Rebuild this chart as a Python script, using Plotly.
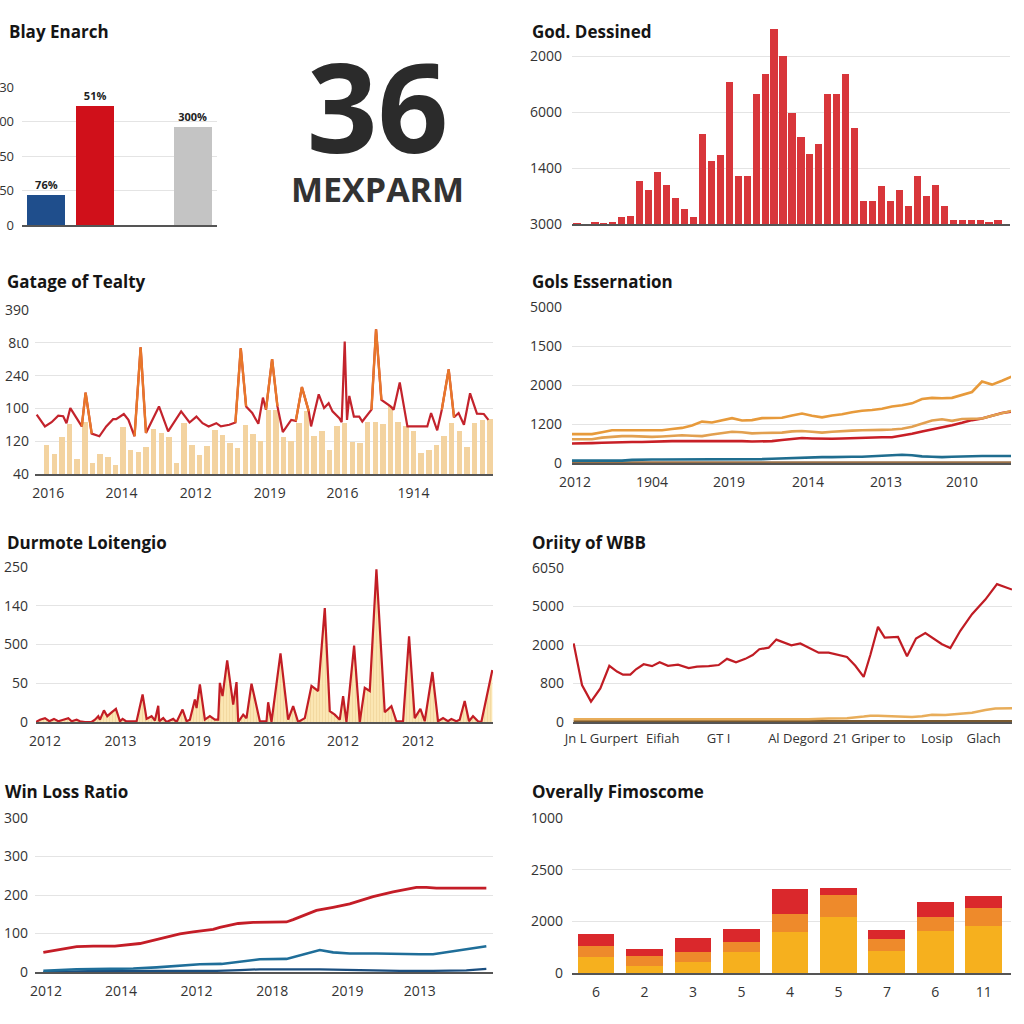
import plotly.graph_objects as go

W = H = 1024
FONT = "Open Sans, Lato, sans-serif"
GRID = "#e4e4e4"
AXIS = "#555555"
TXT = "#333333"

# ---------------- data ----------------
# Panel 1: Blay Enarch
p1_cats = [0, 1, 2, 3]
p1_vals = [0.87, 3.45, None, 2.84]
p1_colors = ["#1f4e8c", "#d0101a", "#ffffff", "#c4c4c4"]
p1_labels = ["<b>76%</b>", "<b>51%</b>", "", "<b>300%</b>"]
p1_ytext = ["0", "50", "50", "00", "30"]

# Big KPI
kpi_value = "36"
kpi_label = "MEXPARM"

# Panel 2: God. Dessined
p2_vals = [0.01, 0.005, 0.03, 0.02, 0.03, 0.13, 0.14, 0.76, 0.60, 0.92,
           0.69, 0.47, 0.27, 0.125, 1.60, 1.12, 1.24, 2.54, 0.85, 0.85,
           2.33, 2.68, 3.48, 3.0, 1.99, 1.55, 1.25, 1.42, 2.32, 2.32,
           2.68, 1.71, 0.41, 0.41, 0.67, 0.41, 0.60, 0.32, 0.85, 0.50,
           0.70, 0.32, 0.065, 0.065, 0.065, 0.065, 0.03, 0.065]
p2_ytext = ["3000", "1400", "6000", "2000"]

# Panel 3: Gatage of Tealty
p3_bars = [0.89, 0.61, 1.13, 1.52, 0.46, 1.60, 0.33, 0.61, 0.52, 0.26,
           1.42, 0.74, 0.66, 0.83, 1.37, 1.25, 1.13, 0.33, 1.55, 0.89,
           0.59, 0.84, 1.35, 1.18, 0.96, 0.79, 1.50, 1.22, 1.01, 1.96,
           1.96, 1.12, 1.01, 1.55, 1.91, 1.17, 1.32, 0.74, 1.45, 1.55,
           0.99, 0.96, 1.60, 1.60, 1.53, 2.06, 1.58, 1.45, 1.30, 0.64,
           0.72, 0.89, 1.15, 1.55, 1.30, 0.81, 1.55, 1.65, 1.67]
p3_line_x = [-0.3, 0.78, 1.65, 2.52, 3.17, 3.6, 4.1, 4.9, 5.6, 6.1,
             6.9, 7.9, 8.8, 9.7, 10.1, 11.1, 11.7, 12.5, 13.3, 14.0,
             14.8, 15.7, 16.9, 17.7, 18.6, 19.7, 20.6, 21.4, 22.2, 23.2,
             23.8, 24.9, 25.7, 26.4, 27.1, 27.9, 28.7, 29.3, 29.7, 30.5,
             31.2, 31.9, 33.0, 33.6, 34.4, 35.3, 35.6, 36.6, 37.3, 37.9,
             38.4, 39.3, 39.6, 40.0, 40.3, 40.6, 41.2, 41.9, 42.3, 43.5,
             44.1, 44.8, 46.0, 46.4, 47.2, 48.2, 50.8, 51.3, 52.1, 52.7,
             53.6, 54.3, 54.9, 55.6, 56.4, 57.3, 58.2, 58.8]
p3_line_y = [1.81, 1.45, 1.58, 1.78, 1.76, 1.55, 2.01, 1.70, 1.45, 2.48,
             1.23, 1.15, 1.45, 1.67, 1.67, 1.83, 1.65, 1.15, 3.86, 1.25,
             1.65, 2.06, 1.30, 1.60, 1.91, 1.57, 1.75, 1.55, 1.45, 1.55,
             1.45, 1.50, 1.57, 3.83, 2.06, 1.86, 1.53, 2.33, 1.96, 3.50,
             2.06, 1.28, 1.65, 1.62, 2.65, 1.91, 1.45, 2.43, 2.01, 2.16,
             1.91, 1.70, 1.58, 4.04, 1.65, 2.38, 1.75, 1.75, 1.60, 1.96,
             4.41, 2.26, 2.06, 1.96, 2.79, 1.45, 1.45, 1.86, 1.33, 1.96,
             3.19, 1.73, 1.86, 1.50, 2.46, 1.84, 1.83, 1.65]
p3_orange_segments = [(8, 10), (17, 19), (32, 34), (38, 40), (43, 45), (59, 61), (69, 71)]
p3_ytext = ["40", "120", "100", "240", "8ι0", "390"]
p3_xtickvals = [1.2, 10.8, 20.5, 30.2, 39.7, 49.0]
p3_xtext = ["2016", "2014", "2012", "2019", "2016", "1914"]

# Panel 4: Gols Essernation (45 samples)
p4_top = [0.74, 0.74, 0.74, 0.79, 0.84, 0.84, 0.84, 0.83, 0.83, 0.84,
          0.87, 0.90, 0.96, 1.06, 1.04, 1.10, 1.15, 1.09, 1.10, 1.15,
          1.16, 1.16, 1.22, 1.27, 1.21, 1.17, 1.22, 1.25, 1.30, 1.34,
          1.36, 1.39, 1.45, 1.48, 1.53, 1.64, 1.67, 1.66, 1.67, 1.75,
          1.82, 2.09, 2.01, 2.11, 2.22]
p4_second = [0.61, 0.61, 0.61, 0.65, 0.67, 0.69, 0.69, 0.68, 0.67, 0.68,
             0.70, 0.71, 0.70, 0.69, 0.73, 0.77, 0.80, 0.79, 0.76, 0.77,
             0.78, 0.78, 0.81, 0.82, 0.80, 0.78, 0.80, 0.82, 0.83, 0.84,
             0.84, 0.85, 0.86, 0.88, 0.93, 1.02, 1.09, 1.12, 1.08, 1.13,
             1.13, 1.14, 1.21, 1.28, 1.34]
p4_red = [0.50, 0.50, 0.51, 0.52, 0.53, 0.54, 0.54, 0.54, 0.55, 0.56,
          0.56, 0.56, 0.56, 0.56, 0.56, 0.57, 0.57, 0.56, 0.55, 0.55,
          0.56, 0.59, 0.62, 0.64, 0.63, 0.62, 0.62, 0.63, 0.64, 0.65,
          0.66, 0.66, 0.66, 0.70, 0.75, 0.81, 0.86, 0.91, 0.97, 1.03,
          1.10, 1.14, 1.21, 1.28, 1.32]
p4_blue = [0.06, 0.06, 0.06, 0.06, 0.06, 0.06, 0.08, 0.09, 0.09, 0.09,
           0.09, 0.09, 0.09, 0.09, 0.09, 0.10, 0.10, 0.10, 0.10, 0.10,
           0.11, 0.12, 0.13, 0.14, 0.15, 0.15, 0.15, 0.16, 0.16, 0.16,
           0.17, 0.18, 0.19, 0.21, 0.20, 0.17, 0.16, 0.15, 0.16, 0.17,
           0.18, 0.18, 0.18, 0.18, 0.18]
p4_brown = [0.01] * 45
p4_x = list(range(45))
p4_ytext = ["0", "1200", "2000", "1500", "5000"]
p4_xtickvals = [0.3, 8.0, 15.7, 23.6, 31.4, 39.0]
p4_xtext = ["2012", "1904", "2019", "2014", "2013", "2010"]

# Panel 5: Durmote Loitengio
p5_x = [0, 1.2, 2.7, 4, 5.4, 6.7, 8.2, 9.7, 10.7, 12.2, 13.2, 14.7, 16.7, 17.7,
        18.7, 19.2, 20.4, 21.4, 22.7, 24, 25.2, 26, 27, 30.2, 32, 33.2, 34.7,
        35.7, 36.7, 37, 38.2, 39.2, 41.2, 42.2, 44, 45.2, 46.2, 47.7, 48.2,
        49.2, 50.7, 52.2, 53.7, 54.7, 55.2, 56, 57.4, 59.2, 60.2, 60.7, 62.2,
        63.2, 64.7, 66.2, 67.2, 69.2, 69.7, 70.7, 73.4, 75.7, 77.2, 78.7,
        80.7, 82.7, 84.7, 86.7, 88.2, 89.7, 91.2, 92.2, 93.2, 95.5, 97.2,
        98.7, 100.2, 102.2, 104.7, 106.7, 108.2, 110.2, 112, 113.7, 115.4,
        116.7, 119, 120.7, 122.2, 123.7, 124.7, 126.2, 127.2, 128.7, 130,
        131.2, 132.7, 133.7, 137]
p5_y = [0, 0.06, 0.10, 0.02, 0.08, 0.02, 0.06, 0.10, 0.02, 0.06, 0.02, 0, 0, 0.06,
        0.15, 0.06, 0.30, 0.15, 0.25, 0.34, 0.02, 0.08, 0.02, 0.02, 0.71, 0.08, 0.15,
        0.04, 0.42, 0.02, 0.10, 0, 0.08, 0, 0.32, 0.02, 0.06, 0.58, 0.36,
        0.97, 0.06, 0.15, 0.06, 0.06, 1.01, 0.67, 1.59, 0.45, 1.03, 0, 0.19,
        0.10, 0.99, 0.41, 0.02, 0.02, 0.51, 0, 1.77, 0.06, 0.41, 0,
        0.10, 0.93, 0.80, 2.94, 0.28, 0.19, 0.06, 0.67, 0, 1.97, 0,
        0.88, 0.80, 3.94, 0.25, 0.41, 0.02, 0.02, 2.21, 0.10, 0.34,
        0.02, 1.29, 0.02, 0.10, 0.02, 0.08, 0.02, 0.06, 0.54, 0.02,
        0.15, 0.02, 0, 1.34]
p5_ytext = ["0", "50", "500", "140", "250"]
p5_xtickvals = [2.7, 25.4, 47.7, 70.0, 92.2, 114.7]
p5_xtext = ["2012", "2013", "2019", "2016", "2012", "2012"]

# Panel 6: Oriity of WBB
p6_x = [0.2, 2.7, 5.4, 8.2, 10.9, 13.2, 15, 17.2, 18.9, 21.2, 23.7, 26, 28.5,
        31.5, 34.7, 37.2, 40.7, 43.7, 46.2, 48.9, 51.7, 53.9, 55.9, 58.7, 61,
        63.5, 65.5, 68.2, 70.7, 73.7, 76.7, 79.2, 82.2, 84.7, 87.2, 89.2,
        91.5, 93.5, 95.7, 97.5, 100.2, 102.9, 105.7, 108.2, 110.7, 113.2,
        116.2, 119.7, 123.7, 127.2, 131.7]
p6_red = [2.04, 0.96, 0.53, 0.87, 1.46, 1.31, 1.23, 1.23, 1.37, 1.50, 1.45, 1.55,
          1.46, 1.49, 1.40, 1.44, 1.45, 1.48, 1.64, 1.55, 1.64, 1.74, 1.89, 1.93,
          2.14, 2.06, 1.99, 2.04, 1.93, 1.80, 1.80, 1.75, 1.69, 1.46, 1.17, 1.74,
          2.47, 2.19, 2.20, 2.21, 1.71, 2.17, 2.31, 2.17, 2.02, 1.92, 2.37, 2.80,
          3.18, 3.58, 3.44]
p6_tan_x = [0.2, 70.7, 76.7, 82.2, 87.2, 89.2, 91.5, 96.7, 101.7, 104.7, 107.7,
            111.7, 116.7, 119.7, 123.7, 126.7, 131.7]
p6_tan = [0.07, 0.07, 0.09, 0.10, 0.14, 0.16, 0.16, 0.14, 0.13, 0.15, 0.19,
          0.18, 0.22, 0.24, 0.31, 0.35, 0.36]
p6_brown_x = [0.2, 131.7]
p6_brown = [0.02, 0.02]
p6_ytext = ["0", "800", "2000", "5000", "6050"]
p6_xtickvals = [8.5, 26.9, 43.7, 67.5, 88.9, 109.2, 123.2]
p6_xtext = ["Jn L Gurpert", "Eifiah", "GT I", "Al Degord", "21 Griper to", "Losip", "Glach"]

# Panel 7: Win Loss Ratio
p7_red_x = [2.5, 12.5, 17.5, 24, 31.5, 37.5, 43.5, 47.5, 53.5, 55.5, 61, 65.5,
            75.5, 77.5, 84.5, 89.5, 94.5, 101.5, 107.5, 114.5, 117.5, 120.5,
            127.5, 135.5]
p7_red = [51, 66, 67, 67, 74, 87, 99, 104, 111, 116, 126, 129, 130, 136, 160,
          168, 177, 196, 208, 220, 220, 218, 218, 218]
p7_blue_x = [2.5, 12.5, 22.5, 29.5, 36.5, 43.5, 49.5, 56, 61.5, 67.5, 75.5, 79.5,
             85.5, 89.5, 94.5, 102.5, 109.5, 115.5, 119.5, 124.5, 129.5, 135.5]
p7_blue = [3, 7, 8, 9, 12, 17, 20, 21, 27, 33, 34, 44, 57, 51, 48, 48, 46, 46,
           46, 53, 59, 67]
p7_navy_x = [2.5, 19.5, 39.5, 54.5, 61.5, 67.5, 85.5, 94.5, 109.5, 119.5, 129.5, 135.5]
p7_navy = [0, 3, 3, 3, 5, 7, 7, 5, 3, 3, 4, 8]
p7_ytickvals = [0, 100, 200, 300, 400]
p7_ytext = ["0", "100", "200", "300", "300"]
p7_xtickvals = [3.3, 25.8, 48.5, 71.2, 93.8, 115.5]
p7_xtext = ["2012", "2014", "2012", "2018", "2019", "2013"]

# Panel 8: Overally Fimoscome (stacked)
p8_x = list(range(9))
p8_yellow = [0.31, 0.14, 0.21, 0.40, 0.79, 1.08, 0.43, 0.82, 0.91]
p8_orange = [0.21, 0.18, 0.20, 0.20, 0.36, 0.43, 0.23, 0.26, 0.34]
p8_red = [0.23, 0.14, 0.26, 0.25, 0.48, 0.14, 0.18, 0.30, 0.25]
p8_ytext = ["0", "2000", "2500", "1000"]
p8_xtext = ["6", "2", "3", "5", "4", "5", "7", "6", "11"]

titles = [
    ("Blay Enarch", 7, 31),
    ("God. Dessined", 530, 31),
    ("Gatage of Tealty", 5, 281),
    ("Gols Essernation", 530, 281),
    ("Durmote Loitengio", 5, 542),
    ("Oriity of WBB", 530, 542),
    ("Win Loss Ratio", 3, 791),
    ("Overally Fimoscome", 530, 791),
]

# ---------------- helpers ----------------
def fx(p):
    return p / W

def fy(p):
    return 1 - p / H

layout = dict(
    width=W, height=H, margin=dict(l=0, r=0, t=0, b=0, pad=0, autoexpand=False),
    paper_bgcolor="white", plot_bgcolor="white",
    showlegend=False, barmode="stack", bargap=0, hovermode=False,
    font=dict(family=FONT, size=14, color=TXT),
)

def add_axes(n, left, right, top, bottom, xrange, yrange, ytickvals, yticktext,
             xtickvals=None, xticktext=None, ystand=8, xstand=6, xfont=14, yfont=14):
    xs = "xaxis" if n == 1 else f"xaxis{n}"
    ys = "yaxis" if n == 1 else f"yaxis{n}"
    yid = "y" if n == 1 else f"y{n}"
    xid = "x" if n == 1 else f"x{n}"
    layout[xs] = dict(
        domain=[fx(left), fx(right)], range=xrange, anchor=yid, automargin=False,
        showgrid=False, zeroline=False, showline=True, linecolor=AXIS,
        linewidth=1.5, ticks="", fixedrange=True,
        tickmode="array", tickvals=xtickvals or [], ticktext=xticktext or [],
        showticklabels=xtickvals is not None,
        tickfont=dict(family=FONT, size=xfont, color=TXT),
        ticklabelstandoff=xstand,
    )
    layout[ys] = dict(
        domain=[fy(bottom), fy(top)], range=yrange, anchor=xid, automargin=False,
        showgrid=True, gridcolor=GRID, gridwidth=1, zeroline=False,
        showline=False, ticks="", fixedrange=True,
        tickmode="array", tickvals=ytickvals, ticktext=yticktext,
        tickfont=dict(family=FONT, size=yfont, color=TXT),
        ticklabelstandoff=ystand,
    )

fig = go.Figure()

# Panel 1
add_axes(1, 22, 217, 87, 225, [-0.5, 3.5], [0, 4], list(range(5)), p1_ytext, ystand=7, yfont=13)
fig.add_trace(go.Bar(x=p1_cats, y=p1_vals, marker_color=p1_colors, marker_line_width=0,
                     width=0.78, text=p1_labels, textposition="outside", cliponaxis=False,
                     textfont=dict(family=FONT, size=11, color="#222"),
                     xaxis="x", yaxis="y"))

# Panel 2
add_axes(2, 572, 1010, 28, 224, [0.44, 49.34], [0, 3.5], list(range(4)), p2_ytext, ystand=9)
fig.add_trace(go.Bar(x=list(range(1, len(p2_vals) + 1)), y=p2_vals,
                     marker_color="#d8363b", marker_line_width=0, width=0.8,
                     xaxis="x2", yaxis="y2"))

# Panel 3
add_axes(3, 35, 493, 310, 474, [-0.52, 59.4], [0, 5], list(range(6)), p3_ytext,
         p3_xtickvals, p3_xtext, ystand=5)
fig.add_trace(go.Bar(x=list(range(1, len(p3_bars) + 1)), y=p3_bars,
                     marker_color="#f3d3a0", marker_line_width=0, width=0.72,
                     xaxis="x3", yaxis="y3"))
fig.add_trace(go.Scatter(x=p3_line_x, y=p3_line_y, mode="lines",
                         line=dict(color="#c3232c", width=2.2), xaxis="x3", yaxis="y3"))
orange_y = [None] * len(p3_line_y)
for a, b in p3_orange_segments:
    for i in range(a, b + 1):
        orange_y[i] = p3_line_y[i]
fig.add_trace(go.Scatter(x=p3_line_x, y=orange_y, mode="lines", connectgaps=False,
                         line=dict(color="#e8772a", width=2.4), xaxis="x3", yaxis="y3"))

# Panel 4
add_axes(4, 572, 1011, 307, 463, [0, 43.9], [0, 4], list(range(5)), p4_ytext,
         p4_xtickvals, p4_xtext, ystand=9)
for ys_, col in [(p4_brown, "#9a7148"), (p4_blue, "#1f6d8f"), (p4_red, "#c81f26"),
                 (p4_second, "#e2a050"), (p4_top, "#e79a3b")]:
    fig.add_trace(go.Scatter(x=p4_x, y=ys_, mode="lines", line=dict(color=col, width=2.6),
                             xaxis="x4", yaxis="y4"))

# Panel 5
add_axes(5, 36, 493, 567, 722, [0, 137.2], [0, 4], list(range(5)), p5_ytext,
         p5_xtickvals, p5_xtext, ystand=7)
fig.add_trace(go.Scatter(x=p5_x, y=p5_y, mode="lines", fill="tozeroy",
                         fillcolor="rgba(250,228,175,0.9)",
                         fillpattern=dict(shape="|", bgcolor="#fbe6b3", fgcolor="#e6c481",
                                          size=3, solidity=0.25),
                         line=dict(color="#c21d25", width=2.2), xaxis="x5", yaxis="y5"))

# Panel 6
add_axes(6, 573, 1012, 568, 722, [0, 131.7], [0, 4], list(range(5)), p6_ytext,
         p6_xtickvals, p6_xtext, ystand=8, xstand=4, xfont=13)
fig.add_trace(go.Scatter(x=p6_brown_x, y=p6_brown, mode="lines",
                         line=dict(color="#7a5a30", width=2.5), xaxis="x6", yaxis="y6"))
fig.add_trace(go.Scatter(x=p6_tan_x, y=p6_tan, mode="lines",
                         line=dict(color="#e8ad5a", width=2.5), xaxis="x6", yaxis="y6"))
fig.add_trace(go.Scatter(x=p6_x, y=p6_red, mode="lines",
                         line=dict(color="#c01c24", width=2.2), xaxis="x6", yaxis="y6"))

# Panel 7
add_axes(7, 35, 493, 818, 972, [0, 137.5], [0, 400], p7_ytickvals, p7_ytext,
         p7_xtickvals, p7_xtext, ystand=6)
fig.add_trace(go.Scatter(x=p7_navy_x, y=p7_navy, mode="lines",
                         line=dict(color="#1b4f80", width=2.2), xaxis="x7", yaxis="y7"))
fig.add_trace(go.Scatter(x=p7_blue_x, y=p7_blue, mode="lines",
                         line=dict(color="#1f6e99", width=2.6), xaxis="x7", yaxis="y7"))
fig.add_trace(go.Scatter(x=p7_red_x, y=p7_red, mode="lines",
                         line=dict(color="#c41d27", width=2.8), xaxis="x7", yaxis="y7"))

# Panel 8
add_axes(8, 572, 1011, 818, 973, [-0.495, 8.56], [0, 3], list(range(4)), p8_ytext,
         p8_x, p8_xtext, ystand=8)
for vals, col in [(p8_yellow, "#f6b01e"), (p8_orange, "#ee8a2b"), (p8_red, "#da282c")]:
    fig.add_trace(go.Bar(x=p8_x, y=vals, marker_color=col, marker_line_width=0, width=0.76,
                         xaxis="x8", yaxis="y8"))

# Annotations: titles + KPI
ann = []
for text, x, y in titles:
    ann.append(dict(text=f"<b>{text}</b>", x=fx(x), y=fy(y), xref="paper", yref="paper",
                    xanchor="left", yanchor="middle", showarrow=False,
                    font=dict(family=FONT, size=17, color="#151515")))
kpi_text = (f"<b><span style='font-size:124px;color:#2b2b2b'>{kpi_value}</span></b><br>"
            f"<b><span style='font-size:34px;color:#333333'>{kpi_label}</span></b>")
ann.append(dict(text=kpi_text, x=fx(377), y=fy(116), xref="paper", yref="paper",
                xanchor="center", yanchor="middle", showarrow=False, align="center",
                font=dict(family=FONT, size=38, color="#333333")))
layout["annotations"] = ann

fig.update_layout(**layout)
fig.write_html("out.html", config={"displayModeBar": False, "staticPlot": True},
               post_script="document.body.style.margin='0';")
